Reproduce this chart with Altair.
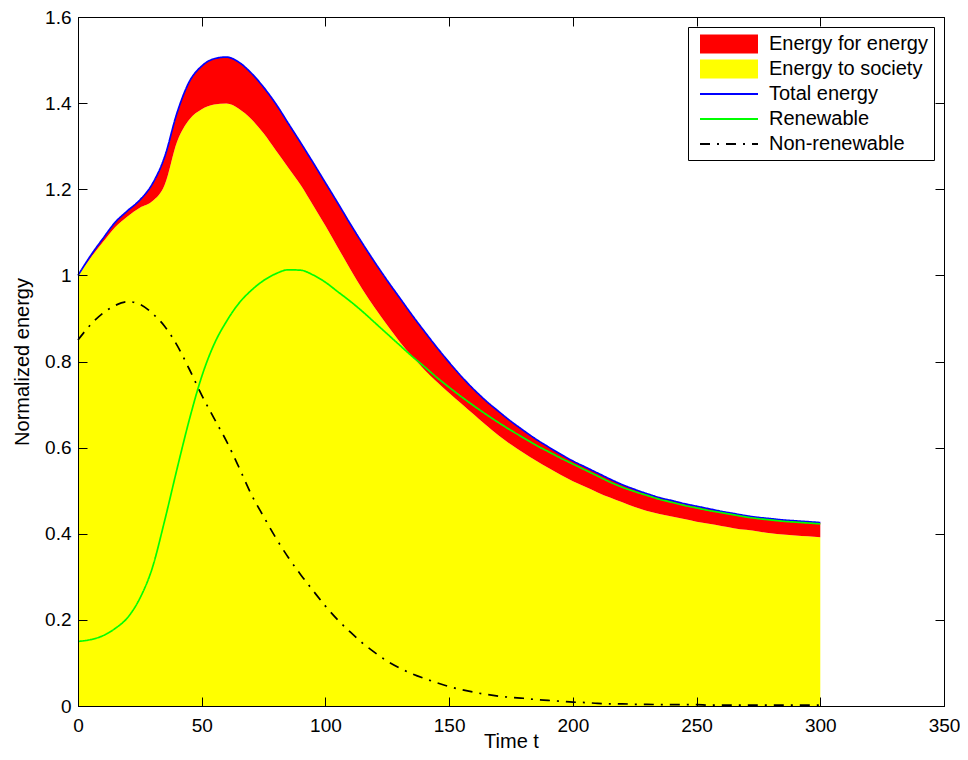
import altair as alt
import pandas as pd

# ---------------- data ----------------
t = list(range(0, 301, 5))

total = [1.000, 1.045, 1.085, 1.123, 1.150, 1.175, 1.212, 1.275, 1.377, 1.450,
         1.486, 1.503, 1.507, 1.495, 1.470, 1.437, 1.398, 1.353, 1.308, 1.262,
         1.215, 1.168, 1.120, 1.074, 1.030, 0.988, 0.948, 0.908, 0.870, 0.833,
         0.798, 0.765, 0.735, 0.708, 0.684, 0.661, 0.640, 0.620, 0.602, 0.585,
         0.569, 0.555, 0.541, 0.527, 0.514, 0.503, 0.493, 0.484, 0.477, 0.470,
         0.464, 0.458, 0.452, 0.447, 0.442, 0.438, 0.435, 0.432, 0.430, 0.428,
         0.426]

society = [1.000, 1.040, 1.077, 1.112, 1.137, 1.157, 1.172, 1.210, 1.310, 1.362,
           1.386, 1.397, 1.399, 1.387, 1.363, 1.330, 1.290, 1.250, 1.210, 1.163,
           1.115, 1.065, 1.015, 0.967, 0.924, 0.884, 0.846, 0.812, 0.781, 0.753,
           0.727, 0.702, 0.677, 0.652, 0.628, 0.607, 0.588, 0.570, 0.553, 0.537,
           0.522, 0.509, 0.496, 0.484, 0.473, 0.462, 0.453, 0.446, 0.440, 0.434,
           0.428, 0.423, 0.418, 0.413, 0.409, 0.405, 0.401, 0.398, 0.396, 0.394,
           0.392]

renewable = [0.150, 0.154, 0.163, 0.180, 0.205, 0.250, 0.320, 0.430, 0.550, 0.665,
             0.765, 0.840, 0.893, 0.935, 0.965, 0.988, 1.004, 1.013, 1.012, 1.001,
             0.984, 0.962, 0.940, 0.916, 0.890, 0.864, 0.838, 0.812, 0.788, 0.763,
             0.740, 0.718, 0.697, 0.677, 0.658, 0.640, 0.623, 0.606, 0.591, 0.576,
             0.562, 0.548, 0.534, 0.520, 0.508, 0.498, 0.489, 0.480, 0.473, 0.466,
             0.460, 0.454, 0.449, 0.444, 0.439, 0.435, 0.432, 0.429, 0.427, 0.425,
             0.423]

nonrenewable = [0.850, 0.885, 0.912, 0.930, 0.939, 0.933, 0.912, 0.882, 0.838, 0.782,
                0.722, 0.668, 0.615, 0.555, 0.492, 0.440, 0.390, 0.345, 0.305, 0.268,
                0.232, 0.200, 0.172, 0.146, 0.124, 0.104, 0.088, 0.075, 0.064, 0.054,
                0.045, 0.038, 0.032, 0.027, 0.023, 0.020, 0.018, 0.015, 0.013, 0.011,
                0.009, 0.008, 0.006, 0.005, 0.005, 0.004, 0.004, 0.003, 0.003, 0.003,
                0.003, 0.002, 0.002, 0.002, 0.002, 0.002, 0.002, 0.002, 0.002, 0.002,
                0.002]

x_ticks = [0, 50, 100, 150, 200, 250, 300, 350]
y_ticks = [0, 0.2, 0.4, 0.6, 0.8, 1, 1.2, 1.4, 1.6]

series_names = ["Energy for energy", "Energy to society", "Total energy",
                "Renewable", "Non-renewable"]
fill_range = ["#ff0000", "#ffff00", "transparent", "transparent", "transparent"]
stroke_range = ["transparent", "transparent", "#0000ff", "#00ff00", "#000000"]
dash_range = [[1, 0], [1, 0], [1, 0], [1, 0], [10, 7, 2, 7]]

# ---------------- tables ----------------
soc_df = pd.DataFrame({"t": t, "lo": [0.0] * len(t), "hi": society,
                       "series": "Energy to society"})
eng_df = pd.DataFrame({"t": t, "lo": society, "hi": total,
                       "series": "Energy for energy"})
lines_df = pd.concat([
    pd.DataFrame({"t": t, "v": total, "series": "Total energy"}),
    pd.DataFrame({"t": t, "v": renewable, "series": "Renewable"}),
    pd.DataFrame({"t": t, "v": nonrenewable, "series": "Non-renewable"}),
], ignore_index=True)

# ---------------- styling ----------------
FONT = "Liberation Sans"
W, H = 866, 689

xscale = alt.Scale(domain=[0, 350], nice=False, zero=False)
yscale = alt.Scale(domain=[0, 1.6], nice=False)

axis_x_main = alt.Axis(orient="bottom", values=x_ticks, ticks=False, domain=True,
                       domainColor="black", grid=False, labelFont=FONT,
                       labelFontSize=19, labelColor="black", labelPadding=10,
                       labelFlush=False, labelOverlap=False, title="Time t",
                       titleFont=FONT, titleFontSize=20, titleFontWeight="normal",
                       titleColor="black", titlePadding=-4, zindex=1)
axis_y_main = alt.Axis(orient="left", values=y_ticks, format="~g", ticks=False,
                       domain=True, domainColor="black", grid=False, labelFont=FONT,
                       labelFontSize=19, labelColor="black", labelPadding=7,
                       labelFlush=False, labelOverlap=False,
                       title="Normalized energy", titleFont=FONT, titleFontSize=20,
                       titleFontWeight="normal", titleColor="black",
                       titlePadding=12, zindex=1)


def tick_axis(orient, values, offset):
    return alt.Axis(orient=orient, values=values, offset=offset, labels=False,
                    domain=False, ticks=True, tickSize=9, tickColor="black",
                    tickWidth=1, grid=False, title=None, zindex=1)


RECT = "M-1,-0.95H4.8V0.95H-1Z"
LINE = "M-1,0H4.8"
legend = alt.Legend(
    title=None, orient="top-right", offset=10, padding=6,
    strokeColor="black", fillColor="white", cornerRadius=0,
    symbolType=alt.ExprRef(
        expr="indexof(['Energy for energy','Energy to society'], datum.value) >= 0"
             " ? '" + RECT + "' : '" + LINE + "'"),
    symbolSize=400, symbolStrokeWidth=2, symbolOffset=5,
    labelFont=FONT, labelFontSize=20,
    labelColor="black", labelOffset=48, labelLimit=400, rowPadding=-3,
    gridAlign="all")

fill_enc = alt.Fill("series:N", scale=alt.Scale(domain=series_names, range=fill_range),
                    legend=legend)

society_area = alt.Chart(soc_df).mark_area(opacity=1, interpolate="monotone").encode(
    x=alt.X("t:Q", scale=xscale, axis=axis_x_main),
    y=alt.Y("lo:Q", scale=yscale, axis=axis_y_main, stack=None),
    y2="hi:Q",
    fill=fill_enc,
)

energy_area = alt.Chart(eng_df).mark_area(opacity=1, interpolate="monotone").encode(
    x=alt.X("t:Q", scale=xscale, axis=tick_axis("top", x_ticks, -H)),
    y=alt.Y("lo:Q", scale=yscale, axis=tick_axis("right", y_ticks, -W), stack=None),
    y2="hi:Q",
    fill=fill_enc,
)

lines = alt.Chart(lines_df).mark_line(strokeWidth=1.7, interpolate="monotone").encode(
    x=alt.X("t:Q", scale=xscale, axis=tick_axis("bottom", x_ticks, -H)),
    y=alt.Y("v:Q", scale=yscale, axis=tick_axis("left", y_ticks, -W)),
    stroke=alt.Stroke("series:N",
                      scale=alt.Scale(domain=series_names, range=stroke_range),
                      legend=legend),
    strokeDash=alt.StrokeDash("series:N",
                              scale=alt.Scale(domain=series_names, range=dash_range),
                              legend=legend),
    order=alt.Order("series:N"),
)

chart = alt.layer(society_area, energy_area, lines).resolve_axis(
    x="independent", y="independent"
).properties(
    width=W, height=H,
    autosize=alt.AutoSizeParams(type="none"),
    padding={"left": 70, "top": 9, "right": 16, "bottom": 46},
    background="white",
).configure_view(stroke="black", strokeWidth=1)

chart.save("out.html", embed_options={"renderer": "svg", "actions": False})
